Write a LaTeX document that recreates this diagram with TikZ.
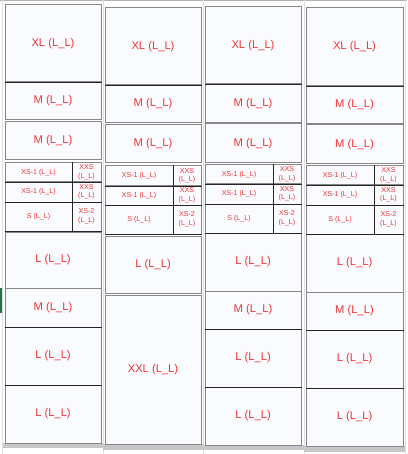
\documentclass[tikz,border=0pt]{standalone}
\usepackage{fontspec}
\setmainfont{Liberation Sans}
\definecolor{labelred}{RGB}{240,52,52}
\definecolor{cellfill}{RGB}{250,251,254}
\definecolor{framegray}{RGB}{135,135,135}
\definecolor{sheetgreen}{RGB}{33,115,70}
\tikzset{
	cell/.style={draw=framegray, line width=1pt, fill=cellfill, text=labelred,
		align=center, inner sep=0pt, font=\fontsize{11.2}{12}\selectfont},
	tiny/.style={font=\fontsize{7.1}{8.5}\selectfont},
	sep/.style={line width=0.8pt, black!85},
	band/.style={fill=black!22},
	grid/.style={black!12, line width=0.5pt}
}
% one compartment: [options]{name}{x1}{y1}{x2}{y2}{label}
\newcommand{\shelf}[7][]{\node[cell, #1, minimum width={(#5-#3)*1pt}, minimum height={(#6-#4)*1pt}] (#2) at ({(#3+#5)/2},{(#4+#6)/2}) {#7};}

\begin{document}
\begin{tikzpicture}[x=1pt, y=-1pt]
		\useasboundingbox (0,0) rectangle (407,454);
		\fill[white] (0,0) rectangle (407,454);

		% sheet grid
		\draw[grid, black!30, line width=1pt] (0,1) -- (407,1);
		\draw[grid] (2,0) -- (2,454);
		\draw[grid] (103,0) -- (103,454);
		\draw[grid] (203,0) -- (203,454);
		\draw[grid] (304,0) -- (304,454);
		\draw[grid] (405,0) -- (405,454);
		\fill[sheetgreen] (0,288) rectangle (2,313);

		% shadows under the columns
		\fill[band] (3,443) rectangle (103,448);
		\fill[band] (103,444) rectangle (203,450);
		\fill[band] (203,445) rectangle (304,450);
		\fill[band] (304,446) rectangle (405,452);

		% column 1
		\shelf{xla}{5}{5}{101}{82}{XL (L\_L)}
		\shelf{ma1}{5}{82}{101}{120}{M (L\_L)}
		\shelf{ma2}{5}{122}{101}{160}{M (L\_L)}
		\shelf[tiny]{xsa1}{5}{163}{72}{182}{XS-1 (L\_L)}
		\shelf[tiny]{xxsa1}{72}{163}{101}{182}{XXS\\(L\_L)}
		\shelf[tiny]{xsa2}{5}{182}{72}{202}{XS-1 (L\_L)}
		\shelf[tiny]{xxsa2}{72}{182}{101}{202}{XXS\\(L\_L)}
		\shelf[tiny]{sa}{5}{202}{72}{231}{S (L\_L)}
		\shelf[tiny]{xs2a}{72}{202}{101}{231}{XS-2\\(L\_L)}
		\shelf{la1}{5}{232}{101}{288}{L (L\_L)}
		\shelf{ma3}{5}{288}{101}{327}{M (L\_L)}
		\shelf{la2}{5}{327}{101}{385}{L (L\_L)}
		\shelf{la3}{5}{385}{101}{443}{L (L\_L)}

		% column 2
		\shelf{xlb}{105}{8}{201}{85}{XL (L\_L)}
		\shelf{mb1}{105}{85}{201}{123}{M (L\_L)}
		\shelf{mb2}{105}{125}{201}{163}{M (L\_L)}
		\shelf[tiny]{xsb1}{105}{166}{173}{186}{XS-1 (L\_L)}
		\shelf[tiny]{xxsb1}{173}{166}{201}{186}{XXS\\(L\_L)}
		\shelf[tiny]{xsb2}{105}{186}{173}{205}{XS-1 (L\_L)}
		\shelf[tiny]{xxsb2}{173}{186}{201}{205}{XXS\\(L\_L)}
		\shelf[tiny]{sb}{105}{205}{173}{234}{S (L\_L)}
		\shelf[tiny]{xs2b}{173}{205}{201}{234}{XS-2\\(L\_L)}
		\shelf{lb1}{105}{236}{201}{293}{L (L\_L)}
		\shelf{xxlb}{105}{295}{201}{444}{XXL (L\_L)}

		% column 3
		\shelf{xlc}{205}{7}{301}{84}{XL (L\_L)}
		\shelf{mc1}{205}{84}{301}{123}{M (L\_L)}
		\shelf{mc2}{205}{124}{301}{163}{M (L\_L)}
		\shelf[tiny]{xsc1}{205}{165}{273}{184}{XS-1 (L\_L)}
		\shelf[tiny]{xxsc1}{273}{165}{301}{184}{XXS\\(L\_L)}
		\shelf[tiny]{xsc2}{205}{184}{273}{204}{XS-1 (L\_L)}
		\shelf[tiny]{xxsc2}{273}{184}{301}{204}{XXS\\(L\_L)}
		\shelf[tiny]{sc}{205}{204}{273}{233}{S (L\_L)}
		\shelf[tiny]{xs2c}{273}{204}{301}{233}{XS-2\\(L\_L)}
		\shelf{lc1}{205}{233}{301}{291}{L (L\_L)}
		\shelf{mc3}{205}{291}{301}{329}{M (L\_L)}
		\shelf{lc2}{205}{329}{301}{387}{L (L\_L)}
		\shelf{lc3}{205}{387}{301}{445}{L (L\_L)}

		% column 4
		\shelf{xld}{306}{8}{403}{86}{XL (L\_L)}
		\shelf{md1}{306}{86}{403}{124}{M (L\_L)}
		\shelf{md2}{306}{125}{403}{164}{M (L\_L)}
		\shelf[tiny]{xsd1}{306}{166}{374}{185}{XS-1 (L\_L)}
		\shelf[tiny]{xxsd1}{374}{166}{403}{185}{XXS\\(L\_L)}
		\shelf[tiny]{xsd2}{306}{185}{374}{205}{XS-1 (L\_L)}
		\shelf[tiny]{xxsd2}{374}{185}{403}{205}{XXS\\(L\_L)}
		\shelf[tiny]{sd}{306}{205}{374}{234}{S (L\_L)}
		\shelf[tiny]{xs2d}{374}{205}{403}{234}{XS-2\\(L\_L)}
		\shelf{ld1}{306}{234}{403}{292}{L (L\_L)}
		\shelf{md3}{306}{292}{403}{330}{M (L\_L)}
		\shelf{ld2}{306}{330}{403}{388}{L (L\_L)}
		\shelf{ld3}{306}{388}{403}{446}{L (L\_L)}

		% dark dividers
		\foreach \c in {a,b,c,d} {
			\draw[sep] (xl\c.south west) -- (xl\c.south east);
			\draw[sep] (xs\c1.south west) -- (xxs\c1.south east);
			\draw[sep] (xs\c2.south west) -- (xxs\c2.south east);
			\draw[sep] (s\c.south west) -- (xs2\c.south east);
			\draw[sep] (xs\c1.north east) -- (s\c.south east);
		}
		\foreach \c in {a,c,d} {
			\draw[sep] (m\c3.south west) -- (m\c3.south east);
			\draw[sep] (l\c2.south west) -- (l\c2.south east);
		}
	\end{tikzpicture}
\end{document}
